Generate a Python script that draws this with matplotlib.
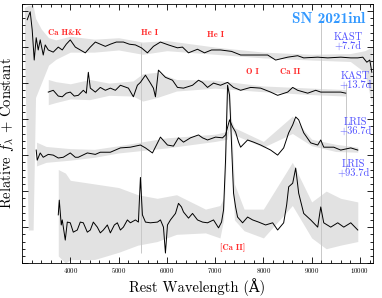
import numpy as np
import matplotlib
matplotlib.use('Agg')
import matplotlib.pyplot as plt
from matplotlib.ticker import MultipleLocator, NullFormatter

plt.rcParams['font.family'] = ['cmr10', 'DejaVu Serif']
plt.rcParams['mathtext.fontset'] = 'cm'
plt.rcParams['axes.formatter.use_mathtext'] = True

# smoothed spectra (rest wavelength in A, relative flux + constant)
wave1 = [3108, 3170, 3211, 3253, 3294, 3336, 3377, 3440, 3481, 3544, 3647, 3751, 3834, 3917,
         4000, 4104, 4207, 4311, 4415, 4519, 4622, 4726, 4830, 4954, 5100, 5224, 5349, 5473,
         5598, 5722, 5867, 6033, 6220, 6324, 6448, 6635, 6780, 6926, 7112, 7341, 7528, 7797,
         8088, 8254, 8503, 8710, 8835, 9125, 9333, 9602, 9810, 9955, 10059, 10142, 10204, 10246]
flux1 = [33.8, 34.9, 32.4, 28.2, 31.3, 29.6, 31.0, 28.9, 30.3, 29.6, 29.3, 30.0, 29.6, 30.4,
         31.0, 30.0, 29.6, 29.2, 30.0, 30.7, 30.4, 30.1, 30.4, 30.7, 30.7, 30.4, 30.3, 29.9,
         29.2, 30.1, 30.7, 30.3, 29.9, 30.0, 29.2, 29.7, 29.2, 29.6, 29.6, 29.4, 28.9, 28.9,
         28.9, 28.2, 28.6, 28.8, 28.5, 28.6, 28.5, 28.6, 28.5, 28.5, 28.6, 27.9, 28.2, 26.5]

wave2 = [3544, 3647, 3751, 3834, 3917, 4000, 4083, 4166, 4270, 4332, 4374, 4415, 4519, 4622,
         4726, 4830, 4934, 5038, 5204, 5307, 5390, 5453, 5557, 5660, 5722, 5764, 5826, 5971,
         6117, 6220, 6345, 6532, 6656, 6739, 6843, 6967, 7112, 7258, 7382, 7528, 7735, 7943,
         8150, 8295, 8503, 8607, 8710, 8918, 9084, 9188, 9395, 9602, 9706]
flux2 = [23.75, 24.0, 23.2, 23.1, 23.6, 23.75, 23.2, 23.3, 24.0, 23.6, 26.5, 24.3, 23.75, 24.4,
         24.0, 24.3, 24.0, 24.7, 24.3, 23.1, 24.7, 25.1, 26.1, 25.0, 24.3, 23.1, 26.8, 25.8,
         25.4, 24.4, 24.3, 24.7, 25.4, 25.1, 24.4, 25.0, 24.7, 25.1, 24.4, 24.0, 24.4, 24.3,
         23.75, 23.3, 23.75, 24.4, 24.0, 23.6, 24.0, 23.75, 23.75, 23.75, 23.6]

wave3 = [3294, 3315, 3377, 3440, 3544, 3647, 3751, 3855, 4000, 4104, 4166, 4353, 4519, 4622,
         4830, 5038, 5245, 5453, 5557, 5702, 5785, 5867, 6013, 6137, 6241, 6345, 6490, 6656,
         6739, 6843, 7009, 7154, 7216, 7299, 7362, 7424, 7486, 7528, 7673, 7797, 7943, 8150,
         8295, 8420, 8524, 8607, 8669, 8731, 8835, 8980, 9125, 9188, 9250, 9457, 9602, 9810, 9955]
flux3 = [15.7, 14.3, 15.3, 14.7, 15.1, 15.0, 14.6, 14.7, 15.3, 14.7, 14.7, 15.3, 15.1, 15.4,
         15.4, 16.0, 16.1, 16.4, 16.0, 15.3, 16.4, 17.5, 16.4, 16.25, 17.4, 16.8, 17.4, 17.8,
         17.4, 17.1, 17.5, 17.4, 17.8, 19.9, 18.9, 18.2, 16.8, 16.1, 17.1, 16.8, 16.4, 15.7,
         15.0, 16.0, 18.1, 19.2, 20.3, 19.9, 18.1, 16.7, 16.4, 17.1, 16.1, 16.1, 15.7, 16.0, 15.7]

wave4 = [3751, 3772, 3813, 3834, 3896, 3938, 4000, 4062, 4145, 4207, 4270, 4353, 4415, 4477,
         4560, 4622, 4685, 4768, 4830, 4913, 4975, 5038, 5100, 5183, 5245, 5349, 5411, 5453,
         5494, 5557, 5660, 5806, 5868, 5930, 5971, 6013, 6075, 6179, 6241, 6303, 6345, 6449,
         6532, 6635, 6739, 6843, 6967, 7071, 7133, 7175, 7216, 7258, 7299, 7320, 7362, 7382,
         7424, 7465, 7569, 7673, 7777, 7901, 8046, 8192, 8295, 8420, 8482, 8524, 8607, 8669,
         8731, 8835, 8980, 9125, 9188, 9250, 9395, 9540, 9665, 9810, 9955]
flux4 = [6.7, 8.75, 5.3, 6.0, 3.2, 5.7, 5.6, 4.3, 4.6, 5.7, 5.6, 4.3, 4.6, 5.7,
         5.0, 4.2, 4.6, 5.3, 4.2, 5.3, 5.6, 4.6, 5.0, 6.0, 5.6, 6.0, 5.7, 11.9,
         6.7, 5.7, 5.6, 5.7, 6.0, 5.0, 1.4, 5.3, 6.0, 6.9, 8.3, 7.8, 7.1, 6.25,
         6.9, 6.0, 5.7, 5.6, 6.0, 4.9, 5.7, 7.4, 14.3, 24.7, 23.3, 19.9, 12.9, 9.7,
         7.8, 6.4, 5.6, 6.4, 6.0, 5.7, 5.3, 5.6, 4.6, 5.6, 8.1, 10.6, 11.1, 13.2,
         9.7, 6.9, 6.0, 5.0, 7.8, 5.6, 5.0, 5.6, 5.0, 5.6, 4.6]

# grey envelope of the unsmoothed spectra
band1_wave = [3050, 3130, 3230, 3280, 3400, 3550, 3700, 4000, 4500, 5000, 5500, 6000, 7000,
              8000, 9000, 9800, 10100, 10250]
band1_lo = [30.5, 4.6, 4.6, 23.0, 25.0, 27.5, 28.3, 29.3, 29.3, 29.6, 29.0, 29.5, 29.0,
            28.5, 28.2, 28.0, 26.5, 22.0]
band1_hi = [35.5, 35.8, 35.8, 34.0, 32.5, 31.3, 31.0, 31.5, 31.1, 31.3, 30.7, 30.9, 30.0,
            29.3, 29.0, 29.1, 29.5, 30.0]

band2_wave = [3544, 3700, 4000, 4400, 4800, 5300, 5500, 5800, 6200, 7000, 8000, 9000, 9706]
band2_lo = [22.0, 22.3, 22.8, 22.7, 23.3, 23.2, 22.5, 23.0, 23.9, 24.3, 23.8, 23.4, 23.2]
band2_hi = [25.5, 25.2, 24.9, 25.5, 25.0, 25.3, 26.3, 26.5, 25.5, 25.4, 24.6, 24.3, 24.1]

band3_wave = [3300, 3500, 4000, 4500, 5000, 6000, 7000, 7250, 7300, 7400, 8000, 8600, 9000,
              9500, 9955]
band3_lo = [13.5, 14.0, 14.3, 14.7, 15.3, 16.0, 16.9, 17.2, 19.0, 17.8, 16.1, 18.0, 16.3,
            15.5, 15.4]
band3_hi = [16.8, 16.2, 15.9, 15.8, 16.3, 17.4, 17.9, 18.3, 20.5, 18.8, 16.9, 20.4, 17.2,
            16.5, 16.1]

band4_wave = [3751, 3900, 4000, 4500, 5000, 5400, 5800, 6200, 6800, 7100, 7175, 7216, 7258,
              7299, 7340, 7400, 7600, 8000, 8600, 9000, 9300, 9600, 9955]
band4_lo = [1.0, 0.0, 0.5, 0.5, 1.5, 2.5, 3.0, 4.0, 4.2, 3.5, 6.0, 12.0, 23.0, 21.0, 14.0,
            6.0, 4.5, 3.5, 8.0, 3.5, 2.0, 2.5, 3.0]
band4_hi = [13.0, 12.5, 11.5, 11.0, 10.5, 9.5, 9.0, 9.5, 7.5, 8.0, 9.0, 16.0, 25.5, 24.5,
            19.0, 11.0, 7.5, 7.5, 14.0, 8.5, 10.0, 9.0, 8.5]

# residual sky lines in the raw data
sky_wave = [5460, 9185, 9720]
sky_lo = [1.4, 0.5, 13.0]
sky_hi = [30.5, 34.0, 25.0]

labels = ['KAST\n+7.7d', 'KAST\n+13.7d', 'LRIS\n+36.7d', 'LRIS\n+93.7d']
label_wave = [9750, 9910, 9900, 9860]
label_y = [30.7, 25.3, 19.0, 13.1]

lines = ['Ca H&K', 'He I', 'He I', 'O I', 'Ca II', '[Ca II]']
line_wave = [3880, 5640, 7010, 7776, 8565, 7362]
line_y = [31.9, 31.9, 31.7, 26.5, 26.5, 2.1]

fig = plt.figure(figsize=(3.82, 2.98), dpi=100)
ax = fig.add_axes([0.0576, 0.117, 0.9188, 0.870])

grey = '#e2e2e2'
for bw, lo, hi in [(band1_wave, band1_lo, band1_hi), (band2_wave, band2_lo, band2_hi),
                   (band3_wave, band3_lo, band3_hi), (band4_wave, band4_lo, band4_hi)]:
	ax.fill_between(bw, lo, hi, color=grey, lw=0, zorder=1)
ax.vlines(sky_wave, sky_lo, sky_hi, color='#c8c8c8', lw=0.7, zorder=1)

for w, f in [(wave1, flux1), (wave2, flux2), (wave3, flux3), (wave4, flux4)]:
	ax.plot(w, f, color='black', lw=0.7, zorder=3)

for t, x, y in zip(labels, label_wave, label_y):
	ax.text(x, y, t, color='#5050ff', fontsize=7.5, ha='center', va='center',
	        linespacing=0.9, zorder=4)
for t, x, y in zip(lines, line_wave, line_y):
	ax.text(x, y, t, color='#ff2a2a', fontsize=6.2, family='cmb10', ha='center',
	        va='center', zorder=4)
ax.text(10100, 33.9, 'SN 2021inl', color='#3399ff', fontsize=11, family='cmb10',
        ha='right', va='center', zorder=4)

ax.set_xlim(3000, 10270)
ax.set_ylim(0, 36)
ax.xaxis.set_major_locator(MultipleLocator(1000))
ax.xaxis.set_minor_locator(MultipleLocator(200))
ax.yaxis.set_major_locator(MultipleLocator(5))
ax.yaxis.set_minor_locator(MultipleLocator(1))
ax.yaxis.set_major_formatter(NullFormatter())
ax.set_xticks([4000, 5000, 6000, 7000, 8000, 9000, 10000])
ax.tick_params(which='both', direction='in', top=True, right=True, labelsize=5, pad=2)
ax.tick_params(which='major', length=4, width=0.6)
ax.tick_params(which='minor', length=2.5, width=0.6)
for s in ax.spines.values():
	s.set_linewidth(0.6)

ax.set_xlabel('Rest Wavelength (Å)', fontsize=10.5, labelpad=2)
ax.set_ylabel(r'Relative $f_\lambda$ + Constant', fontsize=10.5, labelpad=2)

fig.savefig('out.png', dpi=100)
